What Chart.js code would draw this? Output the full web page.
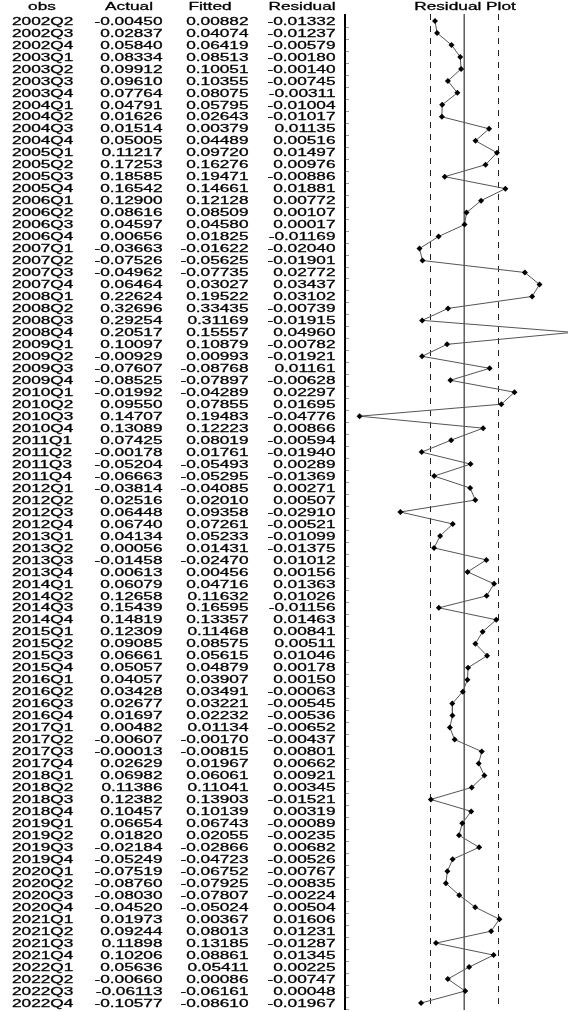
<!DOCTYPE html>
<html>
<head>
<meta charset="utf-8">
<script src="https://cdn.jsdelivr.net/npm/chart.js@4.4.1/dist/chart.umd.min.js"></script>
<style>
html,body{margin:0;padding:0;background:#fff;}
canvas{display:block;}
</style>
</head>
<body>
<canvas id="c" width="572" height="1012"></canvas>
<script>
const obs = ["2002Q2","2002Q3","2002Q4","2003Q1","2003Q2","2003Q3","2003Q4","2004Q1","2004Q2","2004Q3","2004Q4","2005Q1","2005Q2","2005Q3","2005Q4","2006Q1","2006Q2","2006Q3","2006Q4","2007Q1","2007Q2","2007Q3","2007Q4","2008Q1","2008Q2","2008Q3","2008Q4","2009Q1","2009Q2","2009Q3","2009Q4","2010Q1","2010Q2","2010Q3","2010Q4","2011Q1","2011Q2","2011Q3","2011Q4","2012Q1","2012Q2","2012Q3","2012Q4","2013Q1","2013Q2","2013Q3","2013Q4","2014Q1","2014Q2","2014Q3","2014Q4","2015Q1","2015Q2","2015Q3","2015Q4","2016Q1","2016Q2","2016Q3","2016Q4","2017Q1","2017Q2","2017Q3","2017Q4","2018Q1","2018Q2","2018Q3","2018Q4","2019Q1","2019Q2","2019Q3","2019Q4","2020Q1","2020Q2","2020Q3","2020Q4","2021Q1","2021Q2","2021Q3","2021Q4","2022Q1","2022Q2","2022Q3","2022Q4"];
const actual = [-0.00450,0.02837,0.05840,0.08334,0.09912,0.09610,0.07764,0.04791,0.01626,0.01514,0.05005,0.11217,0.17253,0.18585,0.16542,0.12900,0.08616,0.04597,0.00656,-0.03663,-0.07526,-0.04962,0.06464,0.22624,0.32696,0.29254,0.20517,0.10097,-0.00929,-0.07607,-0.08525,-0.01992,0.09550,0.14707,0.13089,0.07425,-0.00178,-0.05204,-0.06663,-0.03814,0.02516,0.06448,0.06740,0.04134,0.00056,-0.01458,0.00613,0.06079,0.12658,0.15439,0.14819,0.12309,0.09085,0.06661,0.05057,0.04057,0.03428,0.02677,0.01697,0.00482,-0.00607,-0.00013,0.02629,0.06982,0.11386,0.12382,0.10457,0.06654,0.01820,-0.02184,-0.05249,-0.07519,-0.08760,-0.08030,-0.04520,0.01973,0.09244,0.11898,0.10206,0.05636,-0.00660,-0.06113,-0.10577];
const fitted = [0.00882,0.04074,0.06419,0.08513,0.10051,0.10355,0.08075,0.05795,0.02643,0.00379,0.04489,0.09720,0.16276,0.19471,0.14661,0.12128,0.08509,0.04580,0.01825,-0.01622,-0.05625,-0.07735,0.03027,0.19522,0.33435,0.31169,0.15557,0.10879,0.00993,-0.08768,-0.07897,-0.04289,0.07855,0.19483,0.12223,0.08019,0.01761,-0.05493,-0.05295,-0.04085,0.02010,0.09358,0.07261,0.05233,0.01431,-0.02470,0.00456,0.04716,0.11632,0.16595,0.13357,0.11468,0.08575,0.05615,0.04879,0.03907,0.03491,0.03221,0.02232,0.01134,-0.00170,-0.00815,0.01967,0.06061,0.11041,0.13903,0.10139,0.06743,0.02055,-0.02866,-0.04723,-0.06752,-0.07925,-0.07807,-0.05024,0.00367,0.08013,0.13185,0.08861,0.05411,0.00086,-0.06161,-0.08610];
const residual = [-0.01332,-0.01237,-0.00579,-0.00180,-0.00140,-0.00745,-0.00311,-0.01004,-0.01017,0.01135,0.00516,0.01497,0.00976,-0.00886,0.01881,0.00772,0.00107,0.00017,-0.01169,-0.02040,-0.01901,0.02772,0.03437,0.03102,-0.00739,-0.01915,0.04960,-0.00782,-0.01921,0.01161,-0.00628,0.02297,0.01695,-0.04776,0.00866,-0.00594,-0.01940,0.00289,-0.01369,0.00271,0.00507,-0.02910,-0.00521,-0.01099,-0.01375,0.01012,0.00156,0.01363,0.01026,-0.01156,0.01463,0.00841,0.00511,0.01046,0.00178,0.00150,-0.00063,-0.00545,-0.00536,-0.00652,-0.00437,0.00801,0.00662,0.00921,0.00345,-0.01521,0.00319,-0.00089,-0.00235,0.00682,-0.00526,-0.00767,-0.00835,-0.00224,0.00504,0.01606,0.01231,-0.01287,0.01345,0.00225,-0.00747,0.00048,-0.01967];
const headers = ["obs","Actual","Fitted","Residual"];
const plotTitle = "Residual Plot";
const seBand = 0.0155;

const FONT = "11.5px 'Liberation Sans', Arial, sans-serif";
const SX = 1.5;

function drawText(ctx, text, x, y, align) {
  ctx.save();
  ctx.translate(x, y);
  ctx.scale(SX, 1);
  ctx.textAlign = align;
  ctx.textBaseline = 'middle';
  ctx.fillText(text, 0, 0);
  ctx.lineWidth = 0.3;
  ctx.strokeStyle = '#000';
  ctx.strokeText(text, 0, 0);
  ctx.restore();
}

const tablePlugin = {
  id: 'tablePlugin',
  beforeDatasetsDraw(chart) {
    const ctx = chart.ctx;
    const xs = chart.scales.x;
    const top = 14, bottom = 1010;
    ctx.save();
    const x0 = xs.getPixelForValue(0);
    ctx.strokeStyle = '#333';
    ctx.lineWidth = 1.2;
    ctx.beginPath();
    ctx.moveTo(x0, top); ctx.lineTo(x0, bottom);
    ctx.stroke();
    ctx.strokeStyle = '#222';
    ctx.lineWidth = 1;
    ctx.setLineDash([6, 6]);
    [-seBand, seBand].forEach(v => {
      const xp = Math.round(xs.getPixelForValue(v)) + 0.5;
      ctx.beginPath();
      ctx.moveTo(xp, top); ctx.lineTo(xp, 1005);
      ctx.stroke();
    });
    ctx.restore();
  },
  afterDraw(chart) {
    const ctx = chart.ctx;
    const ys = chart.scales.y;
    ctx.save();
    ctx.font = FONT;
    ctx.fillStyle = '#000';
    const hy = 7;
    drawText(ctx, headers[0], 42, hy, 'center');
    drawText(ctx, headers[1], 129, hy, 'center');
    drawText(ctx, headers[2], 210, hy, 'center');
    drawText(ctx, headers[3], 302, hy, 'center');
    drawText(ctx, plotTitle, 465, hy, 'center');
    obs.forEach((o, i) => {
      const y = ys.getPixelForValue(i) + 0.5;
      drawText(ctx, o, 12, y, 'left');
      drawText(ctx, actual[i].toFixed(5), 162.5, y, 'right');
      drawText(ctx, fitted[i].toFixed(5), 248.5, y, 'right');
      drawText(ctx, residual[i].toFixed(5), 335.5, y, 'right');
    });
    ctx.strokeStyle = '#000';
    ctx.lineWidth = 2;
    ctx.beginPath();
    ctx.moveTo(345, 14); ctx.lineTo(345, 1010);
    ctx.stroke();
    ctx.strokeStyle = '#999';
    ctx.lineWidth = 1;
    obs.forEach((o, i) => {
      const y = Math.round(ys.getPixelForValue(i) + 6) + 0.5;
      ctx.beginPath();
      ctx.moveTo(346, y); ctx.lineTo(349, y);
      ctx.stroke();
    });
    ctx.restore();
  }
};

new Chart(document.getElementById('c'), {
  type: 'line',
  data: {
    labels: obs,
    datasets: [{
      data: residual,
      borderColor: '#555',
      borderWidth: 1,
      pointStyle: 'rectRot',
      pointRadius: 3,
      pointBackgroundColor: '#000',
      pointBorderColor: '#000',
      pointBorderWidth: 0,
      tension: 0,
      fill: false
    }]
  },
  options: {
    indexAxis: 'y',
    responsive: false,
    animation: false,
    devicePixelRatio: 1,
    layout: { padding: { top: 21, bottom: 9, left: 0, right: 0 } },
    plugins: { legend: { display: false }, tooltip: { enabled: false } },
    scales: {
      x: { type: 'linear', display: false, min: -0.21004, max: 0.04739 },
      y: { type: 'category', display: false, offset: false }
    }
  },
  plugins: [tablePlugin]
});
</script>
</body>
</html>
